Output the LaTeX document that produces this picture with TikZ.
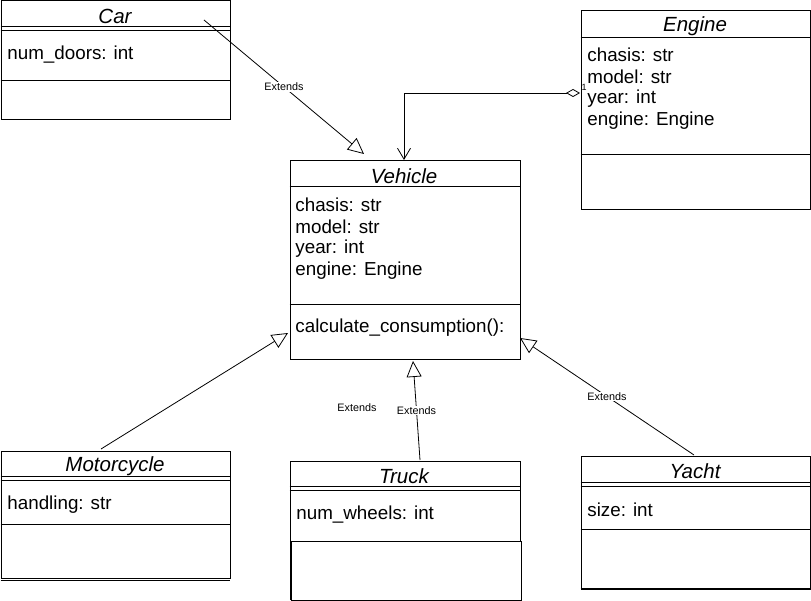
\documentclass[tikz,border=0pt]{standalone}
\usepackage{fontspec}
\setmainfont{Liberation Sans}
\usetikzlibrary{arrows.meta}

\begin{document}
\begin{tikzpicture}[x=1pt, y=-1pt, line width=0.8pt,
  classbox/.style={draw, rectangle, anchor=north west, minimum width=229pt, inner sep=0pt},
  classtitle/.style={font=\fontsize{20.5}{22}\selectfont\itshape, inner sep=0pt},
  attr/.style={font=\fontsize{18.8}{22}\selectfont, anchor=west, inner sep=0pt},
  lbl/.style={font=\fontsize{10.8}{12}\selectfont, fill=white, inner sep=1pt},
  extends/.style={-{Triangle[open, length=16pt, width=15pt, line width=0.8pt]}},
]
\useasboundingbox (0,0) rectangle (811,601);

% classes
\node[classbox, minimum height=119pt] (car) at (0.5,0.5){};
\draw (0.5,26) -- (229.5,26);
\draw (0.5,30) -- (229.5,30);
\draw (0.5,80) -- (229.5,80);
\node[classtitle] (carT) at (115,16){Car};
\node[attr] (carA1) at (7,55){num\_doors: int};

\node[classbox, minimum height=199pt] (engine) at (580.5,10.5){};
\draw (580.5,37) -- (809.5,37);
\draw (580.5,154) -- (809.5,154);
\node[classtitle] (engineT) at (695,26){Engine};
\node[attr] (engineA1) at (587,55){chasis: str};
\node[attr] (engineA2) at (587,77){model: str};
\node[attr] (engineA3) at (587,99){year: int};
\node[attr] (engineA4) at (587,121){engine: Engine};

\node[classbox, minimum height=199pt, minimum width=230pt] (vehicle) at (289.5,160.5){};
\draw (289.5,186) -- (519.5,186);
\draw (289.5,304) -- (519.5,304);
\node[classtitle] (vehicleT) at (404,176){Vehicle};
\node[attr] (vehicleA1) at (295,205){chasis: str};
\node[attr] (vehicleA2) at (295,227){model: str};
\node[attr] (vehicleA3) at (295,249){year: int};
\node[attr] (vehicleA4) at (295,271){engine: Engine};
\node[attr] (vehicleM1) at (295,328){calculate\_consumption():};

\node[classbox, minimum height=127pt] (moto) at (0.5,450.5){};
\draw (0.5,476) -- (229.5,476);
\draw (0.5,480) -- (229.5,480);
\draw (0.5,524) -- (229.5,524);
\draw (0.5,580.5) -- (229.5,580.5);
\node[classtitle] (motoT) at (115,466){Motorcycle};
\node[attr] (motoA1) at (7,505){handling: str};

\node[classbox, minimum height=80pt, minimum width=230pt] (truck) at (289.5,460.5){};
\draw (289.5,486) -- (519.5,486);
\draw (289.5,490) -- (519.5,490);
\node[classbox, minimum height=59pt, minimum width=230pt] (truckM) at (290.5,540.5){};
\draw[line width=1.6pt] (truckM.north west) -- (truckM.south west);
\node[classtitle] (truckT) at (404,476){Truck};
\node[attr] (truckA1) at (296,515){num\_wheels: int};

\node[classbox, minimum height=133pt] (yacht) at (580.5,455.5){};
\draw (580.5,482.5) -- (809.5,482.5);
\draw (580.5,486) -- (809.5,486);
\draw (580.5,529.5) -- (809.5,529.5);
\draw[line width=1.6pt] (580.5,588.5) -- (809.5,588.5);
\node[classtitle] (yachtT) at (695,471){Yacht};
\node[attr] (yachtA1) at (587,510){size: int};

% connectors
\coordinate (carE) at (204,20);
\coordinate (carTip) at (364,154);
\coordinate (motoE) at (101,449);
\coordinate (motoTip) at (288,333);
\coordinate (truckE) at (420,460);
\coordinate (truckTip) at (413,361);
\coordinate (yachtE) at (694,455);
\coordinate (yachtTip) at (520,338);
\coordinate (engineE) at (580,93);
\coordinate (vehicleTop) at (404,160);

\draw[extends] (carE) -- node[lbl]{Extends} (carTip);
\draw[extends] (motoE) -- (motoTip);
\draw[extends] (truckE) -- node[lbl]{Extends} (truckTip);
\draw[extends] (yachtE) -- node[lbl]{Extends} (yachtTip);
\draw[{Diamond[open, length=14pt, width=8pt, line width=0.8pt]}-{Straight Barb[length=11pt, width=13pt]}]
  (engineE) -| (vehicleTop);
\node[font=\fontsize{9}{10}\selectfont, inner sep=0pt] (mult) at (584,87){1};
\node[font=\fontsize{10.8}{12}\selectfont, inner sep=0pt] (lblFree) at (357,408){Extends};
\end{tikzpicture}
\end{document}
